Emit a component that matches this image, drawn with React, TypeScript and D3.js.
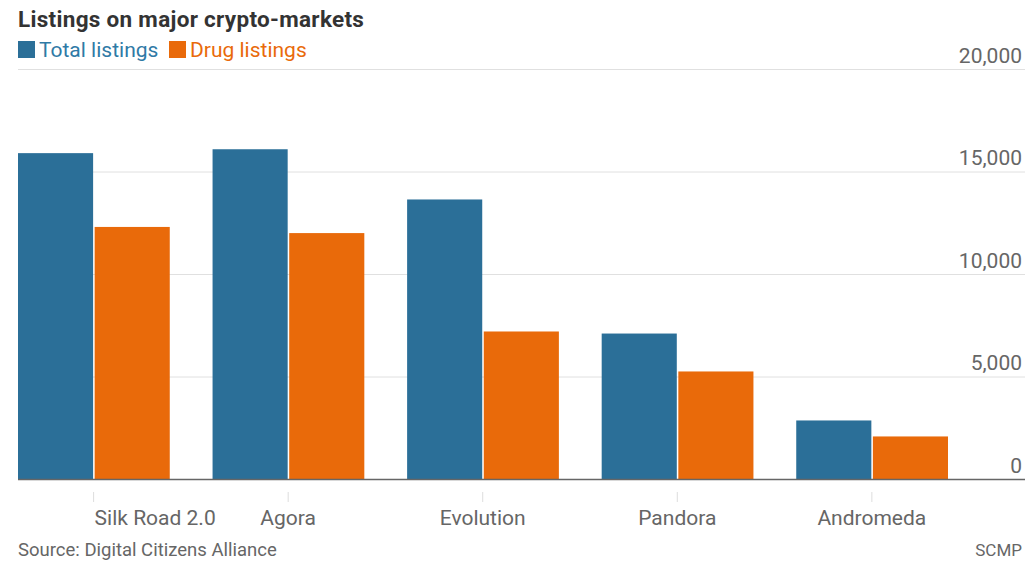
import React from "react";
import * as d3 from "d3";

const categories = ["Silk Road 2.0", "Agora", "Evolution", "Pandora", "Andromeda"];
const totalListings = [15920, 16110, 13660, 7120, 2880];
const drugListings = [12320, 12020, 7220, 5270, 2100];
const seriesNames = ["Total listings", "Drug listings"];
const seriesColors = ["#2b6f98", "#e96a0a"];
const legendTextColors = ["#2f7aa6", "#e96a0a"];
const yTicks = [0, 5000, 10000, 15000, 20000];

const W = 1025;
const H = 561;
const FONT = "Roboto, 'Noto Sans', sans-serif";

export default function App() {
  const x0 = d3.scaleBand<string>().domain(categories).range([18, 948]).paddingInner(0.22).paddingOuter(0);
  const x1 = d3.scaleBand<string>().domain(seriesNames).range([0, x0.bandwidth()]).paddingInner(0.02);
  const y = d3.scaleLinear().domain([0, 20000]).range([479.5, 69.5]);
  const fmt = d3.format(",");
  const seriesValues = [totalListings, drugListings];

  return (
    <svg width={W} height={H} style={{ position: "absolute", left: 0, top: 0, background: "#fff" }}>
      <text x={18} y={27} fontFamily={FONT} fontWeight={700} fontSize={22.5} letterSpacing={0.3} fill="#333">
        Listings on major crypto-markets
      </text>
      {seriesNames.map((s, i) => {
        const lx = i === 0 ? 18 : 169;
        return (
          <g key={s}>
            <rect x={lx} y={41} width={17} height={17} fill={seriesColors[i]} />
            <text x={lx + 21} y={57} fontFamily={FONT} fontSize={21} fill={legendTextColors[i]}>
              {s}
            </text>
          </g>
        );
      })}
      {yTicks.map((t) => (
        <g key={t}>
          {t !== 0 && (
            <line x1={18} x2={W} y1={y(t)} y2={y(t)} stroke="#e0e0e0" strokeWidth={1} />
          )}
          <text x={1022} y={y(t) - 7} textAnchor="end" fontFamily={FONT} fontSize={21} fill="#666">
            {fmt(t)}
          </text>
        </g>
      ))}
      {categories.map((c, ci) => (
        <g key={c}>
          {seriesNames.map((s, si) => {
            const v = seriesValues[si][ci];
            return (
              <rect
                key={s}
                x={(x0(c) as number) + (x1(s) as number)}
                y={y(v)}
                width={x1.bandwidth()}
                height={y(0) - y(v)}
                fill={seriesColors[si]}
              />
            );
          })}
        </g>
      ))}
      <line x1={18} x2={W} y1={y(0)} y2={y(0)} stroke="#666" strokeWidth={1.5} />
      {categories.map((c, ci) => {
        const tx = (x0(c) as number) + x1.bandwidth() + 0.5;
        return (
          <g key={c}>
            <line x1={tx} x2={tx} y1={492} y2={502} stroke="#ddd" strokeWidth={1} />
            <text
              x={ci === 0 ? tx + 1 : tx}
              y={525}
              textAnchor={ci === 0 ? "start" : "middle"}
              fontFamily={FONT}
              fontSize={21}
              fill="#666"
            >
              {c}
            </text>
          </g>
        );
      })}
      <text x={18} y={556} fontFamily={FONT} fontSize={18.5} fill="#666">
        Source: Digital Citizens Alliance
      </text>
      <text x={1022} y={556} textAnchor="end" fontFamily={FONT} fontSize={17} fill="#666">
        SCMP
      </text>
    </svg>
  );
}
